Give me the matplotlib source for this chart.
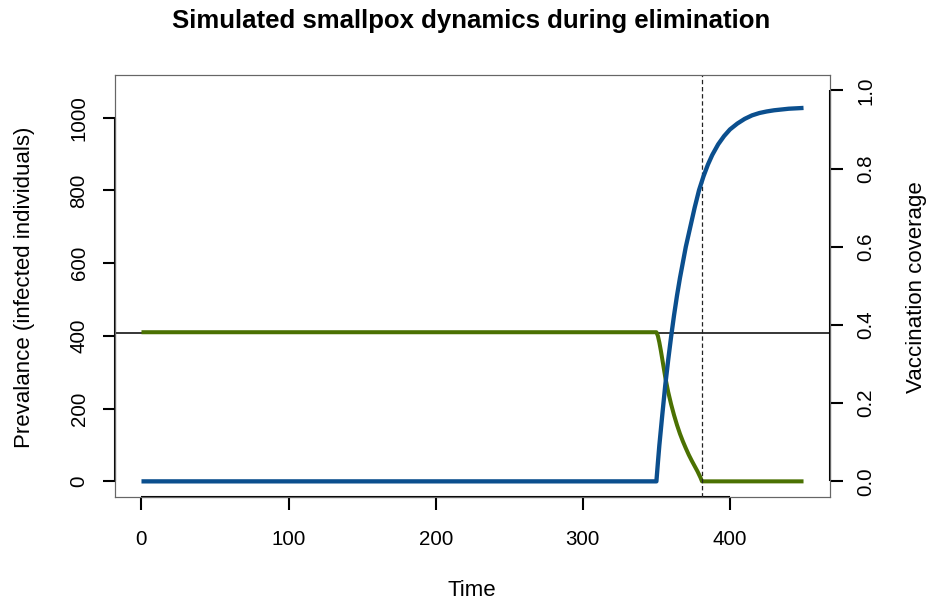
import numpy as np
import matplotlib
matplotlib.use("Agg")
import matplotlib.pyplot as plt

plt.rcParams['font.family'] = ['Liberation Sans', 'DejaVu Sans']

# prevalence of infection (left axis)
t_prev = [0, 350, 351, 352, 353, 354, 356, 358, 360, 362, 364, 366, 368, 370,
          372, 374, 376, 378, 380, 381, 450]
prevalence = [410, 410, 400, 382, 360, 336, 287, 246, 212, 182, 155, 131, 110,
              91, 73, 57, 42, 27, 10, 0, 0]

# vaccination coverage (right axis)
t_cov = [0, 350, 351, 352, 354, 356, 358, 360, 362, 364, 366, 368, 370, 373,
         376, 379, 382, 385, 388, 392, 396, 400, 405, 410, 415, 420, 425, 430,
         435, 440, 445, 450]
coverage = [0, 0, 0.047, 0.092, 0.17, 0.245, 0.31, 0.37, 0.425, 0.475, 0.52,
            0.56, 0.60, 0.65, 0.70, 0.745, 0.78, 0.81, 0.835, 0.862, 0.883,
            0.90, 0.915, 0.927, 0.936, 0.942, 0.946, 0.949, 0.951, 0.953,
            0.954, 0.955]

equilibrium = 408
t_elim = 381

x_ticks = [0, 100, 200, 300, 400]
left_ticks = [0, 200, 400, 600, 800, 1000]
right_ticks = [0.0, 0.2, 0.4, 0.6, 0.8, 1.0]

blue = '#0B4F8E'
green = '#4B7102'

fig = plt.figure(figsize=(9.3, 6.03), dpi=100)
ax = fig.add_axes([115 / 930, 1 - 497 / 603, 715 / 930, (497 - 74.7) / 603])
ax2 = ax.twinx()

ax.axhline(equilibrium, color='black', lw=1.1, zorder=1)
ax.plot(t_prev, prevalence, color=green, lw=2.9, solid_capstyle='butt',
        solid_joinstyle='round', zorder=2)
ax2.plot(t_cov, coverage, color=blue, lw=3.1, solid_capstyle='butt',
         solid_joinstyle='round', zorder=3)
ax2.axvline(t_elim, color='#222222', lw=0.9, linestyle=(0, (3.5, 2.2)))

ax.set_xlim(-18, 468)
ax.set_ylim(-43, 1118)
ax2.set_ylim(-0.04, 1.04)

ax.set_xticks(x_ticks)
ax.set_yticks(left_ticks)
ax2.set_yticks(right_ticks)
ax2.set_yticklabels(['%.1f' % v for v in right_ticks])

for a in (ax, ax2):
    for s in a.spines.values():
        s.set_color('#666666')
        s.set_linewidth(0.8)
    a.tick_params(length=9, width=1.5, labelsize=14.8, color='black')

ax.tick_params(axis='x', pad=15)
ax.tick_params(axis='y', pad=10, labelrotation=90)
ax2.tick_params(axis='y', pad=10, labelrotation=90)
for lab in ax.get_yticklabels() + ax2.get_yticklabels():
    lab.set_va('center')

# axis lines running from first to last tick
ax.plot([0, 400], [0, 0], transform=ax.get_xaxis_transform(), color='black',
        lw=1.5, clip_on=False, solid_capstyle='butt')
ax.plot([0, 0], [0, 1000], transform=ax.get_yaxis_transform(), color='black',
        lw=1.5, clip_on=False, solid_capstyle='butt')
ax2.plot([1, 1], [0, 1], transform=ax2.get_yaxis_transform(), color='black',
         lw=1.5, clip_on=False, solid_capstyle='butt')

fig.text(472 / 930, 1 - 591 / 603, 'Time', ha='center', va='center', fontsize=16)
fig.text(25 / 930, 1 - 287 / 603, 'Prevalance (infected individuals)', rotation=90,
         ha='center', va='center', fontsize=16)
fig.text(916 / 930, 1 - 287 / 603, 'Vaccination coverage', rotation=90,
         ha='center', va='center', fontsize=16)
fig.text(471 / 930, 1 - 21 / 603, 'Simulated smallpox dynamics during elimination',
         ha='center', va='center', fontsize=18.5, fontweight='bold')

fig.savefig('out.png', dpi=100)
